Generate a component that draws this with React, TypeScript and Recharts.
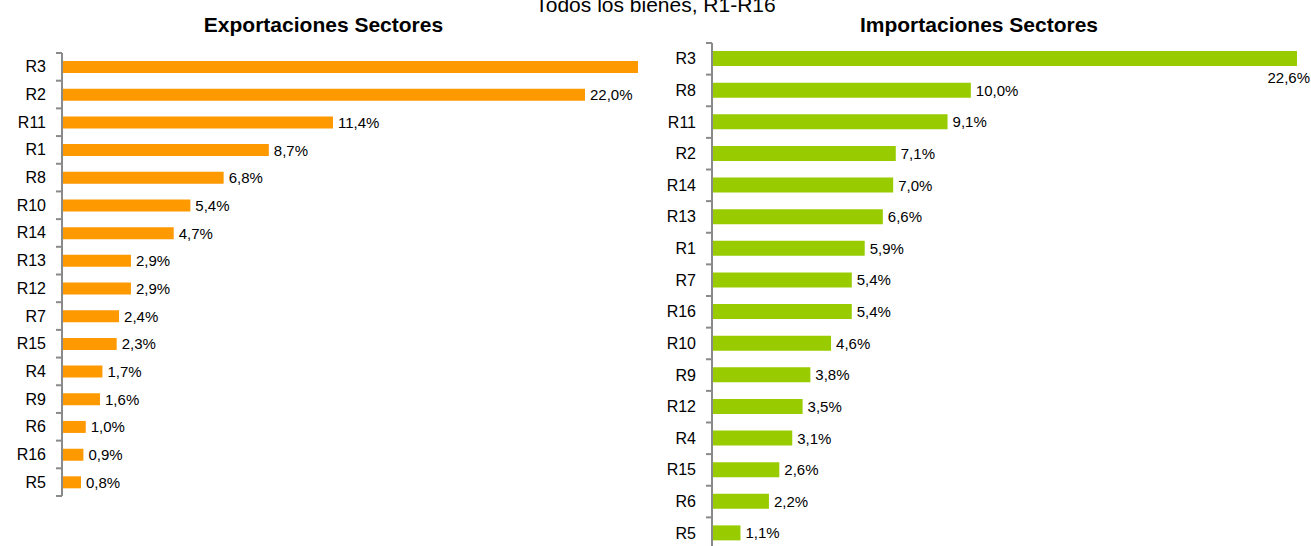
import React from "react";
import { BarChart, Bar, XAxis, YAxis, LabelList } from "recharts";

const exportCategories = ["R3", "R2", "R11", "R1", "R8", "R10", "R14", "R13", "R12", "R7", "R15", "R4", "R9", "R6", "R16", "R5"];
const exportValues = [24.5, 22.0, 11.4, 8.7, 6.8, 5.4, 4.7, 2.9, 2.9, 2.4, 2.3, 1.7, 1.6, 1.0, 0.9, 0.8];

const importCategories = ["R3", "R8", "R11", "R2", "R14", "R13", "R1", "R7", "R16", "R10", "R9", "R12", "R4", "R15", "R6", "R5"];
const importValues = [22.6, 10.0, 9.1, 7.1, 7.0, 6.6, 5.9, 5.4, 5.4, 4.6, 3.8, 3.5, 3.1, 2.6, 2.2, 1.1];

const exportData = exportCategories.map((name, i) => ({ name, value: exportValues[i] }));
const importData = importCategories.map((name, i) => ({ name, value: importValues[i] }));

const FONT = "'Liberation Sans', Arial, sans-serif";
const AXIS_GREY = "#8a8a8a";

const fmt = (v: number) => v.toFixed(1).replace(".", ",") + "%";

// category tick with Excel-style tick marks between the bands
const makeTick = (band: number, count: number) => (props: any) => {
  const { x, y, payload, index } = props;
  return (
    <g>
      <text x={x - 16} y={y} textAnchor="end" dominantBaseline="central" fontSize={16} fill="#000" fontFamily={FONT}>
        {payload.value}
      </text>
      <line x1={x - 6} x2={x} y1={y - band / 2} y2={y - band / 2} stroke={AXIS_GREY} strokeWidth={2} />
      {index === count - 1 && (
        <line x1={x - 6} x2={x} y1={y + band / 2} y2={y + band / 2} stroke={AXIS_GREY} strokeWidth={2} />
      )}
    </g>
  );
};

const makeLabel = (maxValue: number) => (props: any) => {
  const { x, y, width, height, value } = props;
  if (value > maxValue) return null;
  return (
    <text x={x + width + 5} y={y + height / 2} dominantBaseline="central" fontSize={15} fill="#000" fontFamily={FONT}>
      {fmt(value)}
    </text>
  );
};

const importLabel = (props: any) => {
  const { x, y, width, height, value, index } = props;
  if (index === 0) {
    // the longest bar has its label tucked under the bar end
    return (
      <text x={x + width + 13} y={y + height + 11} textAnchor="end" dominantBaseline="central" fontSize={15} fill="#000" fontFamily={FONT}>
        {fmt(value)}
      </text>
    );
  }
  return (
    <text x={x + width + 5} y={y + height / 2} dominantBaseline="central" fontSize={15} fill="#000" fontFamily={FONT}>
      {fmt(value)}
    </text>
  );
};

const EXP_MAX = 24.23;

export default function App() {
  const expPlotH = 443;
  const impPlotH = 506;
  return (
    <div style={{ position: "absolute", left: 0, top: 0, width: 1311, height: 546, overflow: "hidden", background: "#fff", fontFamily: FONT }}>
      <div style={{ position: "absolute", left: 0, width: 1311, top: -7, textAlign: "center", fontSize: 21, lineHeight: "24px", color: "#000" }}>
        Todos los bienes, R1-R16
      </div>
      <div style={{ position: "absolute", left: 203, width: 241, top: 13, textAlign: "center", fontSize: 21, fontWeight: "bold", lineHeight: "24px", whiteSpace: "nowrap" }}>
        Exportaciones Sectores
      </div>
      <div style={{ position: "absolute", left: 844, width: 270, top: 13, textAlign: "center", fontSize: 21, fontWeight: "bold", lineHeight: "24px", whiteSpace: "nowrap" }}>
        Importaciones Sectores
      </div>

      <div style={{ position: "absolute", left: 0, top: 0 }}>
        <BarChart width={640} height={500} data={exportData} layout="vertical" margin={{ top: 53, right: 2, bottom: 4, left: 0 }} barCategoryGap={0}>
          <XAxis type="number" hide domain={[0, EXP_MAX]} allowDataOverflow />
          <YAxis
            type="category"
            dataKey="name"
            width={62}
            tickSize={0}
            tickMargin={0}
            tickLine={false}
            axisLine={{ stroke: AXIS_GREY, strokeWidth: 2 }}
            tick={makeTick(expPlotH / exportCategories.length, exportCategories.length)}
            interval={0}
          />
          <Bar dataKey="value" fill="#ff9900" barSize={12} isAnimationActive={false}>
            <LabelList dataKey="value" content={makeLabel(EXP_MAX)} />
          </Bar>
        </BarChart>
      </div>

      <div style={{ position: "absolute", left: 650, top: 0 }}>
        <BarChart width={661} height={560} data={importData} layout="vertical" margin={{ top: 43, right: 14, bottom: 11, left: 0 }} barCategoryGap={0}>
          <XAxis type="number" hide domain={[0, 22.6]} />
          <YAxis
            type="category"
            dataKey="name"
            width={62}
            tickSize={0}
            tickMargin={0}
            tickLine={false}
            axisLine={{ stroke: AXIS_GREY, strokeWidth: 2 }}
            tick={makeTick(impPlotH / importCategories.length, importCategories.length)}
            interval={0}
          />
          <Bar dataKey="value" fill="#99cc00" barSize={15} isAnimationActive={false}>
            <LabelList dataKey="value" content={importLabel} />
          </Bar>
        </BarChart>
      </div>
    </div>
  );
}
